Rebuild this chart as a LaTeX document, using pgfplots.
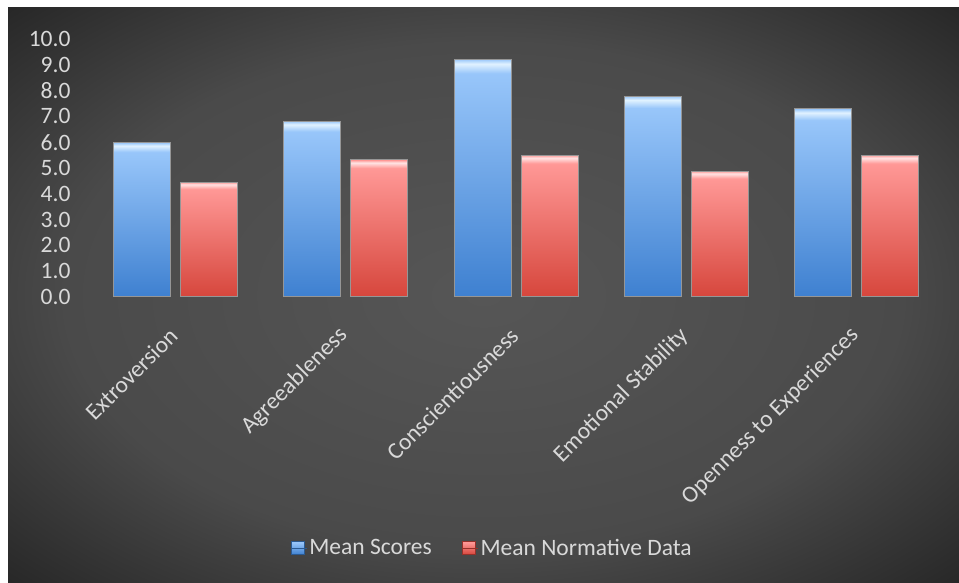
\documentclass[border=0pt]{standalone}
\usepackage{pgfplots}
\pgfplotsset{compat=1.18}
\usepackage{fontspec}
\setmainfont{Carlito}

\definecolor{bgin}{RGB}{86,86,86}
\definecolor{bgmid}{RGB}{74,74,74}
\definecolor{bgout}{RGB}{38,38,38}
\definecolor{txt}{RGB}{217,217,217}
\definecolor{edge}{RGB}{150,150,150}
\definecolor{bB}{RGB}{62,128,208}
\definecolor{bT}{RGB}{152,198,250}
\definecolor{bH}{RGB}{225,242,255}
\definecolor{rB}{RGB}{214,70,60}
\definecolor{rT}{RGB}{255,152,150}
\definecolor{rH}{RGB}{255,228,228}

% bar fills: dark at the base, light at the top, with a glossy rim
\pgfdeclareverticalshading{barblue}{100bp}{color(0bp)=(bB); color(25bp)=(bB); color(72bp)=(bT); color(74bp)=(bH); color(75bp)=(bT); color(100bp)=(bT)}
\pgfdeclareverticalshading{barred}{100bp}{color(0bp)=(rB); color(25bp)=(rB); color(72bp)=(rT); color(74bp)=(rH); color(75bp)=(rT); color(100bp)=(rT)}
\pgfdeclareradialshading{bgshade}{\pgfpoint{0bp}{0bp}}{color(0bp)=(bgin); color(22bp)=(bgmid); color(36bp)=(bgout); color(100bp)=(bgout)}

% one bar per plot, so that each bar gets its own shading
\pgfplotsset{
  scores/.style={draw=edge, line width=1pt, shading=barblue, bar shift=-33.5pt, forget plot},
  norms/.style={draw=edge, line width=1pt, shading=barred, bar shift=33.5pt, forget plot},
}

\begin{document}
\begin{tikzpicture}[x=1pt,y=1pt]
\fill[white] (0,0) rectangle (959,583);
\shade[shading=bgshade] (8,0) rectangle (959,575);
\begin{axis}[
  at={(90pt,286pt)}, anchor=south west,
  scale only axis, width=852pt, height=258pt,
  ybar, bar width=57pt,
  xmin=-0.5, xmax=4.5, ymin=0, ymax=10,
  xtick={0,1,2,3,4},
  xticklabels={Extroversion,Agreeableness,Conscientiousness,Emotional Stability,Openness to Experiences},
  ytick={0,1,...,10},
  axis line style={draw=none},
  major tick length=0pt,
  tick label style={font=\fontsize{23.5pt}{25pt}\selectfont, text=txt},
  xticklabel style={rotate=45, anchor=east, xshift=-22.6pt, yshift=-23.5pt},
  yticklabel style={xshift=-16pt},
  /pgf/number format/.cd, fixed, fixed zerofill, precision=1, assume math mode=true,
  /pgfplots/.cd,
  legend style={at={(0.472,-0.973)}, anchor=center, legend columns=2,
    draw=none, fill=none, text=txt, font=\fontsize{23.5pt}{25pt}\selectfont,
    /tikz/every even column/.append style={column sep=28pt}},
  legend image code/.code={\path[#1] (0pt,-6.5pt) rectangle (13pt,6.5pt); \path (0pt,0pt) -- (16pt,0pt);},
]
\addlegendimage{draw=bB!70!black, line width=0.8pt, shading=barblue}
\addlegendentry{Mean Scores}
\addlegendimage{draw=rB!70!black, line width=0.8pt, shading=barred}
\addlegendentry{Mean Normative Data}
% Mean Scores
\addplot[scores] coordinates {(0,5.98)};
\addplot[scores] coordinates {(1,6.82)};
\addplot[scores] coordinates {(2,9.22)};
\addplot[scores] coordinates {(3,7.79)};
\addplot[scores] coordinates {(4,7.29)};
% Mean Normative Data
\addplot[norms] coordinates {(0,4.45)};
\addplot[norms] coordinates {(1,5.31)};
\addplot[norms] coordinates {(2,5.50)};
\addplot[norms] coordinates {(3,4.88)};
\addplot[norms] coordinates {(4,5.50)};
\end{axis}
\end{tikzpicture}
\end{document}
